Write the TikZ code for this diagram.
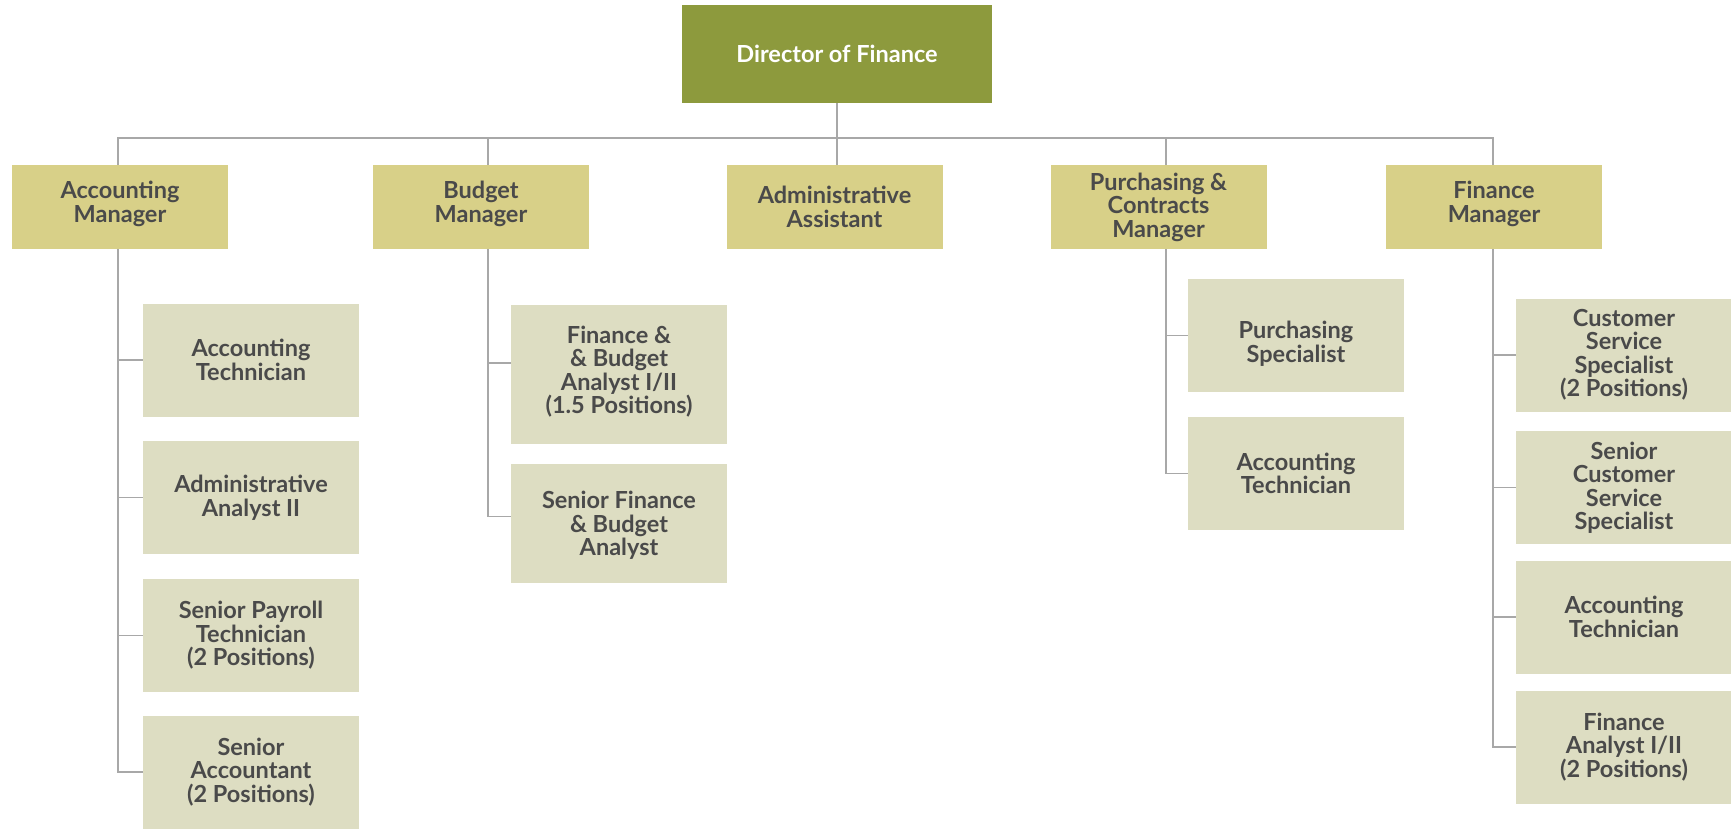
\documentclass[tikz,border=0pt]{standalone}
\usepackage{fontspec}
\setmainfont{Lato}
\definecolor{dirc}{HTML}{8D9A3D}
\definecolor{mgrc}{HTML}{D8D088}
\definecolor{chc}{HTML}{DDDDC2}
\definecolor{txc}{HTML}{4A4A4A}
\definecolor{lnc}{HTML}{A8A8A8}
\tikzset{
  box/.style={rectangle, inner sep=0pt, align=center, text=txc,
    font=\fontsize{23.5}{23.5}\selectfont\bfseries},
  lbl/.style={inner sep=0pt, align=center, text=txc,
    font=\fontsize{23.5}{23.5}\selectfont\bfseries},
  dirbox/.style={box, fill=dirc, text=white, minimum width=310pt, minimum height=98pt},
  mgrbox/.style={box, fill=mgrc, minimum width=216pt, minimum height=84pt},
  chbox/.style={box, fill=chc, minimum width=216pt, minimum height=113pt},
  conn/.style={draw=lnc, line width=1.5pt}
}
\begin{document}
\begin{tikzpicture}[x=1pt,y=-1pt]
\useasboundingbox (0,0) rectangle (1731,828);
\fill[white] (0,0) rectangle (1731,828);
% director
\node[dirbox] (dir) at (837,54) {Director of Finance};
% managers
\node[mgrbox, label={[lbl,yshift=3.3pt]center:{Accounting\\Manager}}] (am) at (120,207) {};
\node[mgrbox, label={[lbl,yshift=3.3pt]center:{Budget\\Manager}}] (bm) at (481,207) {};
\node[mgrbox] (aa) at (834.5,207) {Administrative\\Assistant};
\node[mgrbox] (pm) at (1158.5,207) {Purchasing \&\\Contracts\\Manager};
\node[mgrbox, label={[lbl,yshift=3.3pt]center:{Finance\\Manager}}] (fm) at (1494,207) {};
% accounting children
\node[chbox] (a1) at (251,360) {Accounting\\Technician};
\node[chbox] (a2) at (251,497.5) {Administrative\\Analyst II};
\node[chbox] (a3) at (251,635.5) {Senior Payroll\\Technician\\(2 Positions)};
\node[chbox] (a4) at (251,772) {Senior\\Accountant\\(2 Positions)};
% budget children
\node[chbox, minimum height=139pt, label={[lbl,yshift=2.2pt]center:{Finance \&\\\& Budget\\Analyst I/II\\(1.5 Positions)}}] (b1) at (619,374) {};
\node[chbox, minimum height=119pt, label={[lbl,yshift=-2.7pt]center:{Senior Finance\\\& Budget\\Analyst}}] (b2) at (619,523) {};
% purchasing children
\node[chbox, label={[lbl,yshift=-8pt]center:{Purchasing\\Specialist}}] (p1) at (1296,335.5) {};
\node[chbox] (p2) at (1296,473.5) {Accounting\\Technician};
% finance children
\node[chbox] (f1) at (1624,355) {Customer\\Service\\Specialist\\(2 Positions)};
\node[chbox] (f2) at (1624,487.5) {Senior\\Customer\\Service\\Specialist};
\node[chbox] (f3) at (1624,617) {Accounting\\Technician};
\node[chbox] (f4) at (1624,747) {Finance\\Analyst I/II\\(2 Positions)};
% connectors: director to managers
\coordinate (hub) at (837,138);
\draw[conn] (dir.south) -- (hub);
\draw[conn] (hub) -| ([xshift=-2pt]am.north);
\draw[conn] (hub) -| ([xshift=7pt]bm.north);
\draw[conn] (hub) -| ([xshift=2.5pt]aa.north);
\draw[conn] (hub) -| ([xshift=7.5pt]pm.north);
\draw[conn] (hub) -| ([xshift=-1pt]fm.north);
% accounting
\foreach \c in {a1,a2,a3,a4}{\draw[conn] ([xshift=-2pt]am.south) |- (\c.west);}
% budget
\draw[conn] ([xshift=7pt]bm.south) |- ([yshift=11pt]b1.west);
\draw[conn] ([xshift=7pt]bm.south) |- ([yshift=6.5pt]b2.west);
% purchasing
\foreach \c in {p1,p2}{\draw[conn] ([xshift=7.5pt]pm.south) |- (\c.west);}
% finance
\foreach \c in {f1,f2,f3,f4}{\draw[conn] ([xshift=-1pt]fm.south) |- (\c.west);}
\end{tikzpicture}
\end{document}
